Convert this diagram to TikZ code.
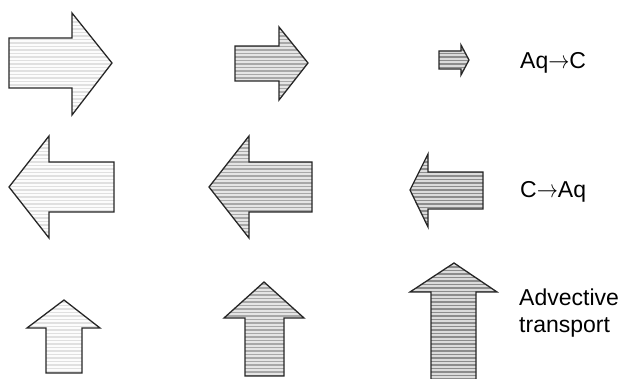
\documentclass[tikz,border=0pt]{standalone}
\usepackage{fontspec}
\usepackage{graphicx}
\setmainfont{Liberation Sans}
\tikzset{
  outline/.style={draw=black!85, line width=1.3pt, line join=miter},
  lbl/.style={inner sep=0pt, font=\fontsize{23}{27}\selectfont}
}
\definecolor{bgA}{gray}{0.99}
\definecolor{lnA}{gray}{0.88}
\definecolor{bgB}{gray}{0.90}
\definecolor{lnB}{gray}{0.66}
\definecolor{bgC}{gray}{0.86}
\definecolor{lnC}{gray}{0.55}
\newcommand\striparrow[3]{%
  \begin{scope}
    \clip #1;
    \fill[#2] (0,0) rectangle (626,385);
    \foreach \yy in {1,4.5,...,385} \draw[#3, line width=1.6pt] (0,\yy) -- (626,\yy);
  \end{scope}
  \draw[outline] #1;
}
\newcommand\rarr{\scalebox{0.85}[1]{$\rightarrow$}}
\begin{document}
\begin{tikzpicture}[x=1pt,y=-1pt]
\useasboundingbox (0,0) rectangle (626,379);
% row 1
\striparrow{(9,38) -- (72,38) -- (72,13) -- (112,63) -- (72,115) -- (72,88) -- (9,88) -- cycle}{bgA}{lnA}
\striparrow{(235,46) -- (279,46) -- (279,27) -- (308,63) -- (279,100) -- (279,81) -- (235,81) -- cycle}{bgB}{lnB}
\striparrow{(439,51) -- (461,51) -- (461,45) -- (469,60) -- (461,75) -- (461,69) -- (439,69) -- cycle}{bgC}{lnC}
% row 2
\striparrow{(114,162) -- (49,162) -- (49,136) -- (9,187) -- (49,238) -- (49,212) -- (114,212) -- cycle}{bgA}{lnA}
\striparrow{(312,162) -- (249,162) -- (249,136) -- (209,187) -- (249,238) -- (249,212) -- (312,212) -- cycle}{bgB}{lnB}
\striparrow{(483,172) -- (428,172) -- (428,154) -- (410,190) -- (428,227) -- (428,209) -- (483,209) -- cycle}{bgC}{lnC}
% row 3
\striparrow{(46,373) -- (46,328) -- (27,328) -- (64,300) -- (100,328) -- (82,328) -- (82,373) -- cycle}{bgA}{lnA}
\striparrow{(245,376) -- (245,318) -- (224,318) -- (264,282) -- (304,318) -- (284,318) -- (284,376) -- cycle}{bgB}{lnB}
\striparrow{(431,383) -- (431,292) -- (410,292) -- (454,263) -- (497,292) -- (476,292) -- (476,383) -- cycle}{bgC}{lnC}
% labels
\node[lbl, anchor=base west] (aqc) at (520,69) {Aq\rarr C};
\node[lbl, anchor=base west] (caq) at (520,198) {C\rarr Aq};
\node[lbl, anchor=base west] (adv) at (519,305) {Advective};
\node[lbl, anchor=base west] (tra) at (519,332) {transport};
\end{tikzpicture}
\end{document}
